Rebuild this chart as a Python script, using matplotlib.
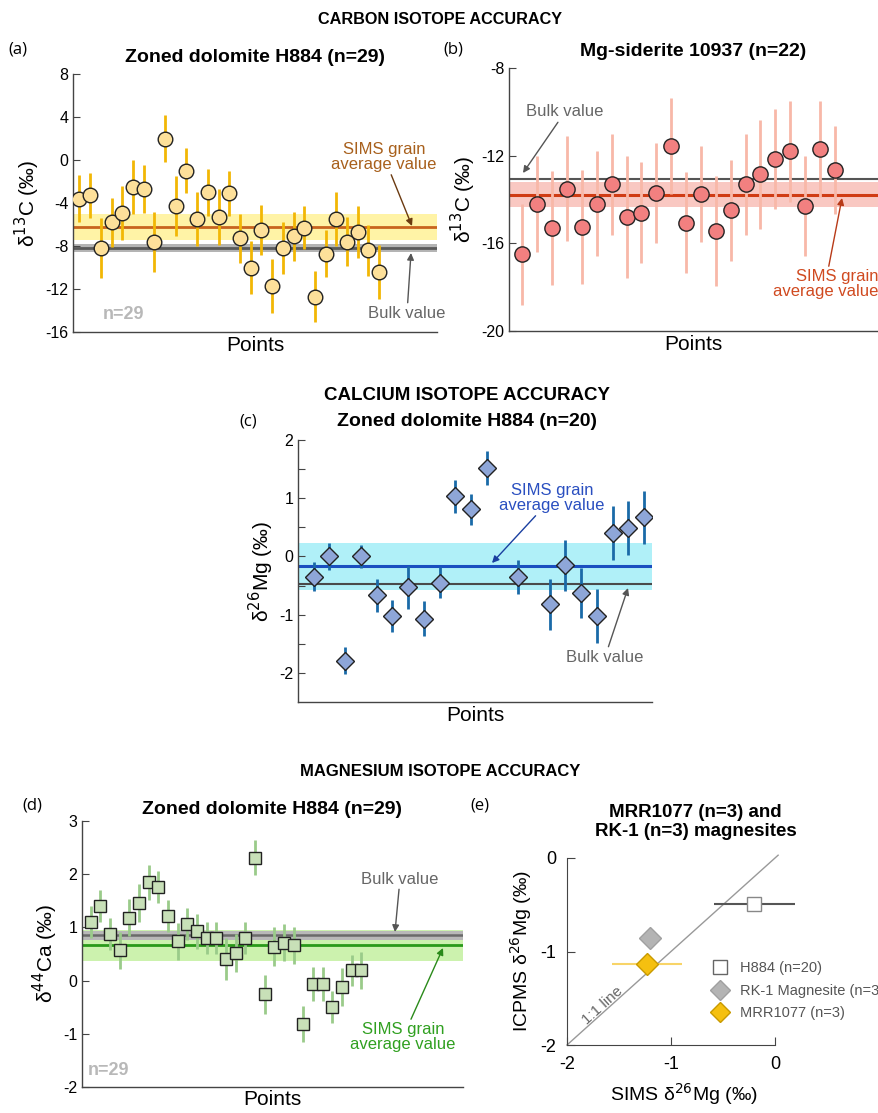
import matplotlib
matplotlib.use("Agg")
import matplotlib.pyplot as plt
from matplotlib.lines import Line2D
import numpy as np

plt.rcParams["font.family"] = ["Liberation Sans", "DejaVu Sans"]
plt.rcParams["axes.unicode_minus"] = False

# ── Data ──────────────────────────────────────────────────────────────────────
# (a) carbon, zoned dolomite H884
a_vals = [-3.6, -3.3, -8.2, -5.8, -4.9, -2.5, -2.7, -7.6, 2.0, -4.3,
          -1.0, -5.5, -3.0, -5.3, -3.1, -7.3, -10.0, -6.5, -11.7, -8.2,
          -7.1, -6.3, -12.7, -8.7, -5.5, -7.6, -6.7, -8.4, -10.4]
a_err = [2.2, 2.1, 2.8, 2.3, 2.5, 2.5, 2.2, 2.8, 2.2, 2.8,
         2.1, 2.5, 2.2, 2.6, 2.1, 2.3, 2.5, 2.3, 2.5, 2.4,
         2.3, 2.0, 2.4, 2.2, 2.5, 2.3, 2.4, 2.4, 2.5]
a_sims, a_sims_sd = -6.24, 1.24
a_bulk, a_bulk_sd = -8.19, 0.35

# (b) carbon, Mg-siderite 10937
b_vals = [-16.5, -14.2, -15.3, -13.5, -15.25, -14.2, -13.3, -14.8, -14.6, -13.7,
          -11.55, -15.05, -13.75, -15.45, -14.5, -13.3, -12.85, -12.15, -11.8, -14.3,
          -11.7, -12.65]
b_err = [2.3, 2.2, 2.6, 2.4, 2.6, 2.4, 2.3, 2.8, 2.3, 2.3,
         2.2, 2.3, 2.2, 2.5, 2.3, 2.3, 2.5, 2.3, 2.3, 2.3,
         2.2, 2.0]
b_sims, b_sims_sd = -13.79, 0.57
b_bulk = -13.05

# (c) SIMS d26Mg in zoned dolomite H884
c_pos = [1, 2, 3, 4, 5, 6, 7, 8, 9, 10, 11, 12, 14, 16, 17, 18, 19, 20, 21, 22]
c_vals = [-0.35, 0.0, -1.79, 0.0, -0.67, -1.02, -0.53, -1.07, -0.45, 1.03,
          0.81, 1.52, -0.35, -0.82, -0.15, -0.62, -1.02, 0.40, 0.49, 0.67]
c_err = [0.25, 0.23, 0.23, 0.20, 0.29, 0.28, 0.37, 0.30, 0.27, 0.29,
         0.27, 0.29, 0.29, 0.44, 0.44, 0.43, 0.46, 0.46, 0.47, 0.46]
c_sims, c_sims_sd = -0.17, 0.40
c_bulk = -0.48

# (d) d44Ca in zoned dolomite H884
d_vals = [1.10, 1.41, 0.88, 0.57, 1.18, 1.46, 1.85, 1.76, 1.21, 0.74,
          1.07, 0.93, 0.80, 0.80, 0.41, 0.52, 0.80, 2.31, -0.26, 0.64,
          0.71, 0.66, -0.81, -0.06, -0.06, -0.50, -0.12, 0.19, 0.19]
d_err = [0.30, 0.30, 0.30, 0.35, 0.35, 0.35, 0.33, 0.30, 0.30, 0.35,
         0.30, 0.33, 0.30, 0.30, 0.40, 0.35, 0.30, 0.33, 0.37, 0.37,
         0.35, 0.35, 0.34, 0.32, 0.32, 0.30, 0.35, 0.30, 0.35]
d_sims, d_sims_sd = 0.66, 0.30
d_bulk, d_bulk_sd = 0.85, 0.09

# (e) ICPMS vs SIMS
e_names = ["H884 (n=20)", "RK-1 Magnesite (n=3)", "MRR1077 (n=3)"]
e_sims = [-0.20, -1.205, -1.23]
e_icp = [-0.495, -0.854, -1.135]
e_xerr = [0.39, 0.0, 0.34]

SPINE = "#444444"
H = 1113


def style_axes(ax):
    for s in ("top", "right"):
        ax.spines[s].set_visible(False)
    for s in ("left", "bottom"):
        ax.spines[s].set_color(SPINE)
        ax.spines[s].set_linewidth(1.0)
    ax.tick_params(axis="y", direction="in", length=5, color=SPINE, labelsize=11.5)
    ax.set_xticks([])


def level(ax, value, sd, line_c, band_c, lw=2.0, z=1):
    x0, x1 = ax.get_xlim()
    if sd:
        ax.fill_between([x0, x1], value - sd, value + sd, color=band_c, lw=0, zorder=0)
    ax.plot([x0, x1], [value, value], color=line_c, lw=lw, zorder=z)


def px(x, y):
    return (x, H - y)


def note(ax, text, xy_text, xy_arrow, color, arrow_c, ha="center"):
    ax.annotate(text, xy=px(*xy_arrow), xytext=px(*xy_text), xycoords="figure pixels",
                textcoords="figure pixels", ha=ha, va="center", color=color,
                fontsize=12, linespacing=1.0,
                arrowprops=dict(arrowstyle="-|>", color=arrow_c, lw=1.0,
                                shrinkA=0, shrinkB=0, mutation_scale=10))


fig = plt.figure(figsize=(8.79, 11.13), dpi=100)

# ── (a) ───────────────────────────────────────────────────────────────────────
ax = fig.add_axes([73 / 879, 1 - 332 / H, 364 / 879, 258 / H])
style_axes(ax)
xa = np.arange(1, len(a_vals) + 1)
ax.set_xlim(0.4, 34.4)
ax.set_ylim(-16, 8)
ax.set_yticks([8, 4, 0, -4, -8, -12, -16])
level(ax, a_sims, a_sims_sd, "#c8641e", "#fff3a6", lw=2.0)
level(ax, a_bulk, a_bulk_sd, "#5a5a5a", "#b4b4b4", lw=2.0)
ax.errorbar(xa, a_vals, yerr=a_err, fmt="o", ms=10.5, mfc="#fde09a", mec="#222222",
            mew=1.0, ecolor="#f2b705", elinewidth=2.0, capsize=0, zorder=3)
ax.set_ylabel("δ$^{13}$C (‰)", fontsize=15, labelpad=2)
ax.set_xlabel("Points", fontsize=15, labelpad=3)
ax.text(0.083, 0.035, "n=29", transform=ax.transAxes, color="#b8b8b8",
        fontsize=13, fontweight="bold", va="bottom")
ax.set_title("Zoned dolomite H884 (n=29)", fontsize=14, fontweight="bold", pad=9)
note(ax, "SIMS grain\naverage value", (384, 157), (412, 226), "#a8601c", "#6b3a10")
note(ax, "Bulk value", (407, 313), (411, 253), "#666666", "#555555")

# ── (b) ───────────────────────────────────────────────────────────────────────
ax = fig.add_axes([509 / 879, 1 - 331 / H, 369 / 879, 263 / H])
style_axes(ax)
xb = np.arange(1, len(b_vals) + 1)
ax.set_xlim(0.1, 24.9)
ax.set_ylim(-20, -8)
ax.set_yticks([-8, -12, -16, -20])
level(ax, b_sims, b_sims_sd, "#d03c14", "#f9c8c2", lw=2.2, z=1)
ax.errorbar(xb, b_vals, yerr=b_err, fmt="o", ms=11, mfc="#f28080", mec="#222222",
            mew=1.0, ecolor="#f8b8a8", elinewidth=2.0, capsize=0, zorder=3)
level(ax, b_bulk, 0, "#555555", None, lw=1.5, z=2)
ax.set_ylabel("δ$^{13}$C (‰)", fontsize=15, labelpad=2)
ax.set_xlabel("Points", fontsize=15, labelpad=3)
ax.set_title("Mg-siderite 10937 (n=22)", fontsize=14, fontweight="bold", pad=9)
note(ax, "Bulk value", (565, 112), (523, 173), "#666666", "#555555")
note(ax, "SIMS grain\naverage value", (878, 284), (842, 198), "#d04a20", "#b83a18",
     ha="right")

# ── (c) ───────────────────────────────────────────────────────────────────────
ax = fig.add_axes([298 / 879, 1 - 702 / H, 354 / 879, 262 / H])
style_axes(ax)
ax.set_xlim(0, 22.5)
ax.set_ylim(-2.5, 2)
ax.set_yticks([2, 1.5, 1, 0.5, 0, -0.5, -1, -1.5, -2])
ax.set_yticklabels(["2", "", "1", "", "0", "", "-1", "", "-2"])
level(ax, c_sims, c_sims_sd, "#1a4fc0", "#b0f0f8", lw=2.2)
level(ax, c_bulk, 0, "#4a4a4a", None, lw=1.5)
ax.errorbar(c_pos, c_vals, yerr=c_err, fmt="D", ms=9, mfc="#8ea6d8", mec="#222222",
            mew=1.0, ecolor="#1a6aa8", elinewidth=2.0, capsize=0, zorder=3)
ax.set_ylabel("δ$^{26}$Mg (‰)", fontsize=15, labelpad=2)
ax.set_xlabel("Points", fontsize=15, labelpad=3)
note(ax, "SIMS grain\naverage value", (552, 498), (492, 563), "#2a4fc0", "#1a3fa0")
note(ax, "Bulk value", (605, 657), (628, 588), "#666666", "#555555")

# ── (d) ───────────────────────────────────────────────────────────────────────
ax = fig.add_axes([82 / 879, 1 - 1087 / H, 381 / 879, 266 / H])
style_axes(ax)
xd = np.arange(1, len(d_vals) + 1)
ax.set_xlim(0.1, 39.5)
ax.set_ylim(-2, 3)
ax.set_yticks([3, 2, 1, 0, -1, -2])
level(ax, d_sims, d_sims_sd, "#2a9a1a", "#ccf2ae", lw=2.0)
level(ax, d_bulk, d_bulk_sd, "#6a6a6a", "#b8b8b8", lw=1.8)
ax.errorbar(xd, d_vals, yerr=d_err, fmt="s", ms=9, mfc="#c8e0b8", mec="#222222",
            mew=1.0, ecolor="#9acb8a", elinewidth=2.0, capsize=0, zorder=3)
ax.set_ylabel("δ$^{44}$Ca (‰)", fontsize=15, labelpad=2)
ax.set_xlabel("Points", fontsize=15, labelpad=2)
ax.text(0.015, 0.03, "n=29", transform=ax.transAxes, color="#b8b8b8",
        fontsize=13, fontweight="bold", va="bottom")
ax.set_title("Zoned dolomite H884 (n=29)", fontsize=14, fontweight="bold", pad=5)
note(ax, "Bulk value", (400, 879), (395, 932), "#666666", "#555555")
note(ax, "SIMS grain\naverage value", (403, 1037), (443, 948), "#30a020", "#2a8a1a")

# ── (e) ───────────────────────────────────────────────────────────────────────
ax = fig.add_axes([567 / 879, 1 - 1045 / H, 234 / 879, 187 / H])
for s in ("top", "right"):
    ax.spines[s].set_visible(False)
for s in ("left", "bottom"):
    ax.spines[s].set_color(SPINE)
ax.set_xlim(-2, 0.25)
ax.set_ylim(-2, 0)
ax.spines["bottom"].set_bounds(-2, 0)
ax.set_xticks([-2, -1, 0])
ax.set_yticks([0, -1, -2])
ax.tick_params(direction="in", length=6, color=SPINE, labelsize=13, pad=8)
ax.plot([-2, 0.03], [-2, 0.03], color="#999999", lw=1.0, clip_on=False, zorder=1)
ax.text(-1.66, -1.58, "1:1 line", rotation=42, color="#666666", fontsize=11,
        ha="center", va="center")
ax.errorbar(e_sims[0], e_icp[0], xerr=e_xerr[0], fmt="s", ms=10, mfc="white",
            mec="#888888", mew=1.0, ecolor="#555555", elinewidth=1.5, capsize=0,
            zorder=3, clip_on=False)
ax.errorbar(e_sims[1], e_icp[1], fmt="D", ms=11, mfc="#b4b4b4", mec="#a0a0a0",
            mew=1.0, zorder=3)
ax.errorbar(e_sims[2], e_icp[2], xerr=e_xerr[2], fmt="D", ms=11, mfc="#f5c010",
            mec="#c89a00", mew=1.0, ecolor="#f8d468", elinewidth=1.5, capsize=0,
            zorder=3)
handles = [
    Line2D([], [], ls="", marker="s", ms=10, mfc="white", mec="#666666"),
    Line2D([], [], ls="", marker="D", ms=10, mfc="#b4b4b4", mec="#a0a0a0"),
    Line2D([], [], ls="", marker="D", ms=10, mfc="#f5c010", mec="#c89a00"),
]
leg = ax.legend(handles, e_names, loc="upper left", bbox_to_anchor=(0.56, 0.52),
                frameon=False, fontsize=10.5, handletextpad=0.8, labelspacing=0.6,
                handlelength=1.2)
for t in leg.get_texts():
    t.set_color("#555555")
ax.set_ylabel("ICPMS δ$^{26}$Mg (‰)", fontsize=14, labelpad=4)
ax.set_xlabel("SIMS δ$^{26}$Mg (‰)", fontsize=14, labelpad=6)
ax.set_title("MRR1077 (n=3) and\nRK-1 (n=3) magnesites", fontsize=13.5,
             fontweight="bold", pad=16, x=0.55, linespacing=1.1)

# ── headers & panel labels ───────────────────────────────────────────────────
fig.text(440 / 879, 1 - 20 / H, "CARBON ISOTOPE ACCURACY", ha="center",
         va="center", fontsize=11.7, fontweight="bold")
fig.text(467 / 879, 1 - 395 / H, "CALCIUM ISOTOPE ACCURACY", ha="center",
         va="center", fontsize=13.5, fontweight="bold")
fig.text(440 / 879, 1 - 772 / H, "MAGNESIUM ISOTOPE ACCURACY", ha="center",
         va="center", fontsize=12, fontweight="bold")
fig.text(467 / 879, 1 - 422 / H, "Zoned dolomite H884 (n=20)", ha="center",
         va="center", fontsize=14, fontweight="bold")
for lab, x, y in (("(a)", 18, 50), ("(b)", 453, 50), ("(c)", 248, 422),
                  ("(d)", 32, 806), ("(e)", 480, 806)):
    fig.text(x / 879, 1 - y / H, lab, ha="center", va="center", fontsize=12,
             family=["Open Sans", "DejaVu Sans"])

fig.savefig("out.png", dpi=100)
